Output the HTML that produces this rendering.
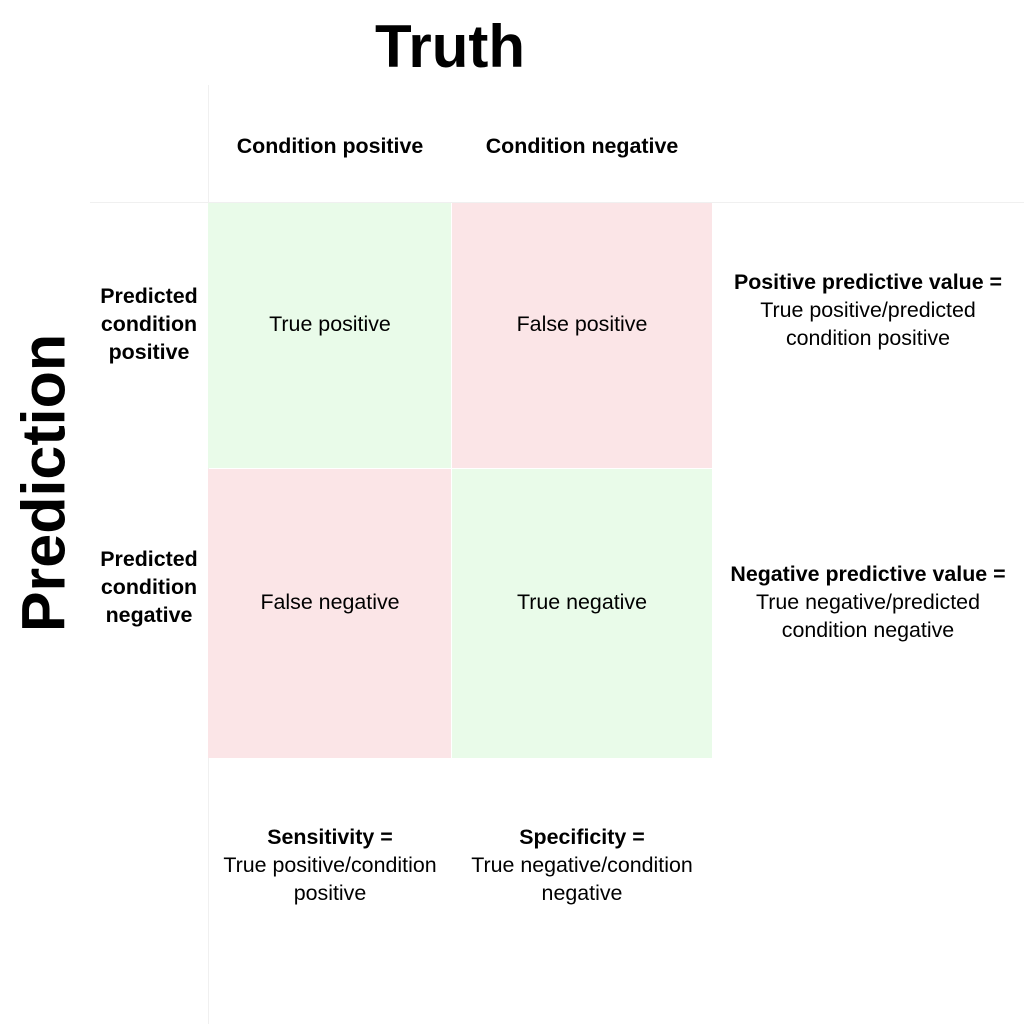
<!DOCTYPE html>
<html><head><meta charset="utf-8"><style>
body{margin:0;width:1024px;height:1024px;background:#fff;position:relative;overflow:hidden;font-family:"Liberation Sans","DejaVu Sans",sans-serif;color:#000}
.a{position:absolute}
.t{position:absolute;text-align:center;font-size:21.4px;line-height:28px;transform:translate(-50%,-50%);white-space:nowrap}
b{font-weight:bold}
</style></head><body>
<div class="a" style="left:208px;top:85px;width:1px;height:939px;background:#f0f0f0"></div>
<div class="a" style="left:90px;top:202px;width:934px;height:1px;background:#f0f0f0"></div>
<div class="a" style="left:208px;top:203px;width:243px;height:265px;background:#e9fbe9"></div>
<div class="a" style="left:452px;top:203px;width:260px;height:265px;background:#fbe5e7"></div>
<div class="a" style="left:208px;top:469px;width:243px;height:289px;background:#fbe5e7"></div>
<div class="a" style="left:452px;top:469px;width:260px;height:289px;background:#e9fbe9"></div>
<div class="t" style="left:450px;top:47px;font-size:60px;line-height:60px;font-weight:bold">Truth</div>
<div class="t" style="left:44px;top:483px;font-size:61px;line-height:61px;font-weight:bold;transform:translate(-50%,-50%) rotate(-90deg)">Prediction</div>
<div class="t" style="left:330px;top:146px"><b>Condition positive</b></div>
<div class="t" style="left:582px;top:146px"><b>Condition negative</b></div>
<div class="t" style="left:149px;top:324px"><b>Predicted<br>condition<br>positive</b></div>
<div class="t" style="left:149px;top:587px"><b>Predicted<br>condition<br>negative</b></div>
<div class="t" style="left:330px;top:324px">True positive</div>
<div class="t" style="left:582px;top:324px">False positive</div>
<div class="t" style="left:330px;top:602px">False negative</div>
<div class="t" style="left:582px;top:602px">True negative</div>
<div class="t" style="left:868px;top:310px"><b>Positive predictive value =</b><br>True positive/predicted<br>condition positive</div>
<div class="t" style="left:868px;top:602px"><b>Negative predictive value =</b><br>True negative/predicted<br>condition negative</div>
<div class="t" style="left:330px;top:865px"><b>Sensitivity =</b><br>True positive/condition<br>positive</div>
<div class="t" style="left:582px;top:865px"><b>Specificity =</b><br>True negative/condition<br>negative</div>
</body></html>
